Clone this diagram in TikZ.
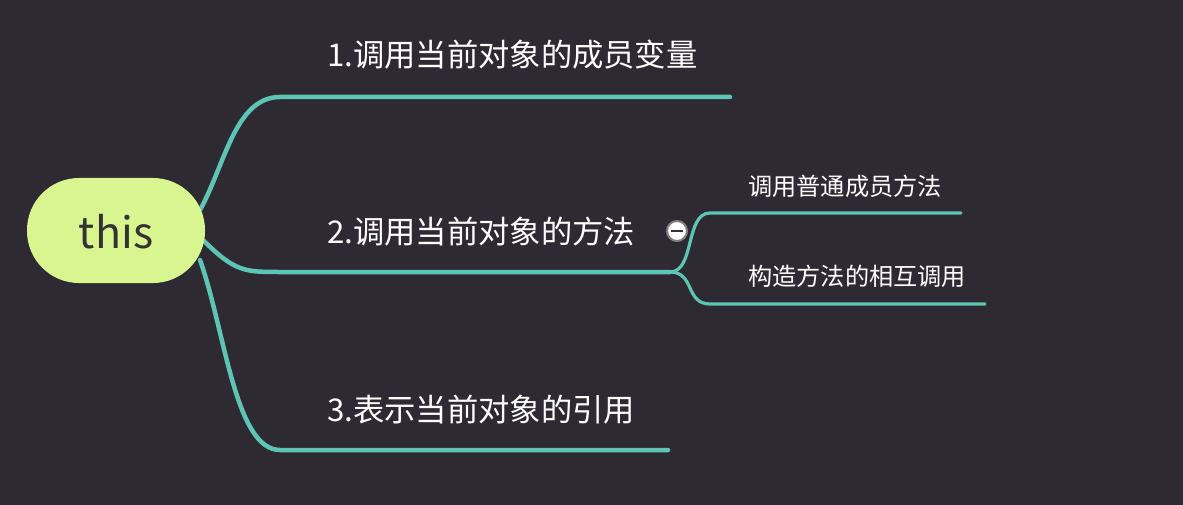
\documentclass[tikz,border=0pt]{standalone}
\usepackage{fontspec}
\setmainfont{Noto Sans CJK SC}
\definecolor{bgdark}{HTML}{2E2A33}
\definecolor{branchline}{HTML}{5EC5B4}
\definecolor{rootfill}{HTML}{D8F58F}
\definecolor{roottext}{HTML}{333333}
\begin{document}
\begin{tikzpicture}[x=10pt,y=10pt]
              \tikzstyle{every node}+=[inner sep=0pt]
              \tikzstyle{branch}=[branchline, line width=4.5pt, line cap=round]
              \tikzstyle{subbranch}=[branchline, line width=3.2pt, line cap=round]
              \tikzstyle{topic}=[anchor=west, text=white, font=\fontsize{31.3}{37}\selectfont]
              \tikzstyle{subtopic}=[anchor=west, text=white, font=\fontsize{24.2}{29}\selectfont]
              \fill [bgdark] (0,0) rectangle (118.3,-50.5);
              \useasboundingbox (0,0) rectangle (118.3,-50.5);
              \coordinate (b1s) at (20.0,-21.0);
              \coordinate (b1m) at (28.0,-9.7);
              \coordinate (b1e) at (73.0,-9.7);
              \coordinate (b2s) at (20.3,-24.0);
              \coordinate (b2m) at (28.0,-27.2);
              \coordinate (fork) at (67.0,-27.2);
              \coordinate (b3s) at (20.0,-26.0);
              \coordinate (b3m) at (28.0,-45.0);
              \coordinate (b3e) at (66.8,-45.0);
              \coordinate (s1m) at (71.0,-21.3);
              \coordinate (s1e) at (96.1,-21.3);
              \coordinate (s2m) at (71.0,-30.4);
              \coordinate (s2e) at (98.5,-30.4);
              \draw [branch] (b1s) .. controls (22.5,-16.5) and (23.5,-9.7) .. (b1m) -- (b1e);
              \draw [branch] (b2s) .. controls (23.5,-27.2) and (24.5,-27.2) .. (b2m) -- (fork);
              \draw [branch] (b3s) .. controls (22.5,-33.0) and (23.5,-45.0) .. (b3m) -- (b3e);
              \draw [subbranch] (fork) .. controls (69.5,-27.2) and (68.5,-21.3) .. (s1m) -- (s1e);
              \draw [subbranch] (fork) .. controls (69.5,-27.2) and (68.5,-30.4) .. (s2m) -- (s2e);
              \node [fill=rootfill, rounded corners=52pt, minimum width=178pt, minimum height=105pt] (root) at (11.6,-23.05) {};
              \node [text=roottext, font=\fontsize{43}{50}\selectfont] (rootlabel) at (11.6,-23.2) {this};
              \node [topic] (t1) at (32.7,-5.5) {1.调用当前对象的成员变量};
              \node [topic] (t2) at (32.7,-23.2) {2.调用当前对象的方法};
              \node [topic] (t3) at (32.7,-41.0) {3.表示当前对象的引用};
              \node [subtopic] (s1) at (74.8,-18.6) {调用普通成员方法};
              \node [subtopic] (s2) at (74.8,-27.6) {构造方法的相互调用};
              \node [circle, fill=white, draw=gray, line width=2pt, minimum size=20pt] (fold) at (67.7,-23.1) {};
              \draw [line width=2.2pt, roottext] ([xshift=-6pt]fold.center) -- ([xshift=6pt]fold.center);
\end{tikzpicture}
\end{document}
